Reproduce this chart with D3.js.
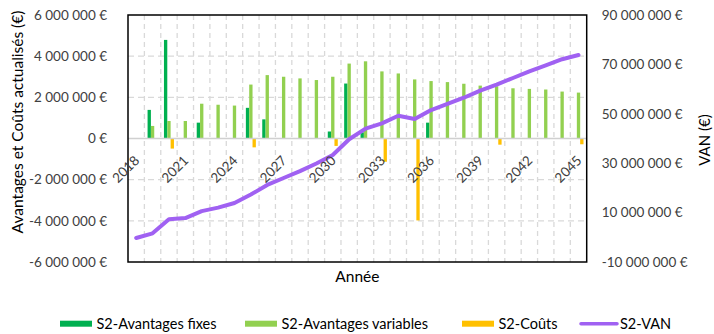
<!DOCTYPE html>
<html><head><meta charset="utf-8">
<script src="https://cdn.jsdelivr.net/npm/d3@7"></script>
<style>
body{margin:0;background:#fff;}
svg{display:block;font-family:Lato, "Open Sans", sans-serif;}
</style></head>
<body><svg id="chart" width="714" height="334"></svg>
<script>
const years = d3.range(2018, 2046);
const tickYears = [2018, 2021, 2024, 2027, 2030, 2033, 2036, 2039, 2042, 2045];
const avantagesFixes = [0, 1390000, 4790000, 0, 770000, 0, 0, 1490000, 930000, 0, 0, 0, 340000, 2670000, 300000, 0, 0, 0, 770000, 0, 0, 0, 0, 0, 0, 0, 0, 0];
const avantagesVariables = [0, 610000, 850000, 850000, 1690000, 1640000, 1600000, 2620000, 3080000, 3000000, 2920000, 2840000, 3000000, 3640000, 3750000, 3260000, 3160000, 2870000, 2790000, 2740000, 2660000, 2570000, 2540000, 2440000, 2410000, 2380000, 2280000, 2230000];
const couts = [0, 0, -490000, 0, 0, 0, 0, -430000, 0, 0, 0, 0, -360000, 0, 0, -1130000, 0, -3980000, 0, 0, 0, 0, -300000, 0, 0, 0, 0, -280000];
const van = [-300000, 1600000, 7300000, 7800000, 10600000, 12000000, 13900000, 17300000, 21200000, 24000000, 26800000, 29900000, 33300000, 39700000, 44000000, 46100000, 49200000, 47900000, 51500000, 54000000, 56500000, 59400000, 61800000, 64500000, 67200000, 69600000, 72100000, 73800000];
const leftTicks = [-6000000, -4000000, -2000000, 0, 2000000, 4000000, 6000000];
const rightTicks = [-10000000, 10000000, 30000000, 50000000, 70000000, 90000000];
const seriesNames = ["S2-Avantages fixes", "S2-Avantages variables", "S2-Coûts", "S2-VAN"];
const colors = ["#00b050", "#92d050", "#ffc000", "#a061f2"];

const svg = d3.select("#chart");
const L = 128, R = 586.7, T = 15, B = 262;
const loc = d3.formatLocale({decimal: ",", thousands: " ", grouping: [3], currency: ["", " €"], minus: "-"});
const fmt = v => loc.format(",.0f")(v) + " €";

const x = d3.scaleBand().domain(years).range([L, R]).padding(0);
const inner = d3.scaleBand().domain([0, 1, 2]).range([0, 10]);
const off = (x.bandwidth() - 10) / 2;
const yL = d3.scaleLinear().domain([-6000000, 6000000]).range([B, T]);
const yR = d3.scaleLinear().domain([-10000000, 90000000]).range([B, T]);

// gridlines
const grid = svg.append("g");
grid.selectAll("line.h").data(leftTicks.filter(v => v !== 0 && Math.abs(v) < 6000000)).join("line")
  .attr("x1", L).attr("x2", R).attr("y1", d => yL(d)).attr("y2", d => yL(d))
  .attr("stroke", "#d9d9d9").attr("stroke-width", 1.3).attr("stroke-dasharray", "6,4");
grid.selectAll("line.v").data(years.slice(1)).join("line")
  .attr("x1", d => x(d)).attr("x2", d => x(d)).attr("y1", T).attr("y2", B)
  .attr("stroke", "#d9d9d9").attr("stroke-width", 1.3).attr("stroke-dasharray", "5,4");

// bars
const barSeries = [avantagesFixes, avantagesVariables, couts];
barSeries.forEach((arr, si) => {
  svg.append("g").selectAll("rect").data(arr.map((v, i) => ({v, y: years[i]}))).join("rect")
    .attr("x", d => x(d.y) + off + inner(si))
    .attr("width", inner.bandwidth())
    .attr("y", d => Math.min(yL(d.v), yL(0)))
    .attr("height", d => Math.abs(yL(d.v) - yL(0)))
    .attr("fill", colors[si]);
});

// zero line
svg.append("line").attr("x1", L).attr("x2", R).attr("y1", yL(0)).attr("y2", yL(0))
  .attr("stroke", "#d0d0d0").attr("stroke-width", 1.5);

// VAN line
svg.append("path").datum(van)
  .attr("d", d3.line().x((d, i) => x(years[i]) + x.bandwidth() / 2).y(d => yR(d)))
  .attr("fill", "none").attr("stroke", colors[3]).attr("stroke-width", 4)
  .attr("stroke-linejoin", "round").attr("stroke-linecap", "round");

// border
svg.append("rect").attr("x", L).attr("y", T).attr("width", R - L).attr("height", B - T)
  .attr("fill", "none").attr("stroke", "#000").attr("stroke-width", 1.5);

// left axis
const ax = svg.append("g").attr("transform", `translate(${L},0)`)
  .call(d3.axisLeft(yL).tickValues(leftTicks).tickFormat(fmt).tickSize(0).tickPadding(21));
ax.select(".domain").remove();
ax.selectAll("text").attr("font-size", 13.5).attr("fill", "#404040").attr("font-family", "Lato");

const axr = svg.append("g").attr("transform", `translate(${R},0)`)
  .call(d3.axisRight(yR).tickValues(rightTicks).tickFormat(fmt).tickSize(0).tickPadding(15));
axr.select(".domain").remove();
axr.selectAll("text").attr("font-size", 13.5).attr("fill", "#404040").attr("font-family", "Lato");

// year labels
svg.append("g").selectAll("text").data(tickYears).join("text")
  .attr("transform", d => `translate(${x(d) + x.bandwidth() / 2 + 4},${yL(0) + 23}) rotate(-45)`)
  .attr("text-anchor", "end").attr("font-size", 13.5).attr("fill", "#404040")
  .text(d => d);

// axis titles
svg.append("text").attr("transform", "translate(23,122) rotate(-90)").attr("text-anchor", "middle")
  .attr("font-size", 15.5).attr("fill", "#000").text("Avantages et Coûts actualisés (€)");
svg.append("text").attr("transform", "translate(710,140) rotate(-90)").attr("text-anchor", "middle")
  .attr("font-size", 15).attr("fill", "#000").text("VAN (€)");
svg.append("text").attr("x", (L + R) / 2).attr("y", 282).attr("text-anchor", "middle")
  .attr("font-size", 15.5).attr("fill", "#000").text("Année");

// legend
const legX = [60, 245, 462, 580];
const lg = svg.append("g");
seriesNames.forEach((n, i) => {
  if (i < 3) {
    lg.append("rect").attr("x", legX[i]).attr("y", 320.7).attr("width", 32).attr("height", 6).attr("fill", colors[i]);
  } else {
    lg.append("line").attr("x1", legX[i] + 1).attr("x2", legX[i] + 37).attr("y1", 323.7).attr("y2", 323.7)
      .attr("stroke", colors[i]).attr("stroke-width", 3.5).attr("stroke-linecap", "round");
  }
  lg.append("text").attr("x", legX[i] + (i < 3 ? 36.5 : 40)).attr("y", 323.7).attr("dy", "0.35em")
    .attr("font-size", 14.5).attr("fill", "#000").text(n);
});
</script></body></html>
